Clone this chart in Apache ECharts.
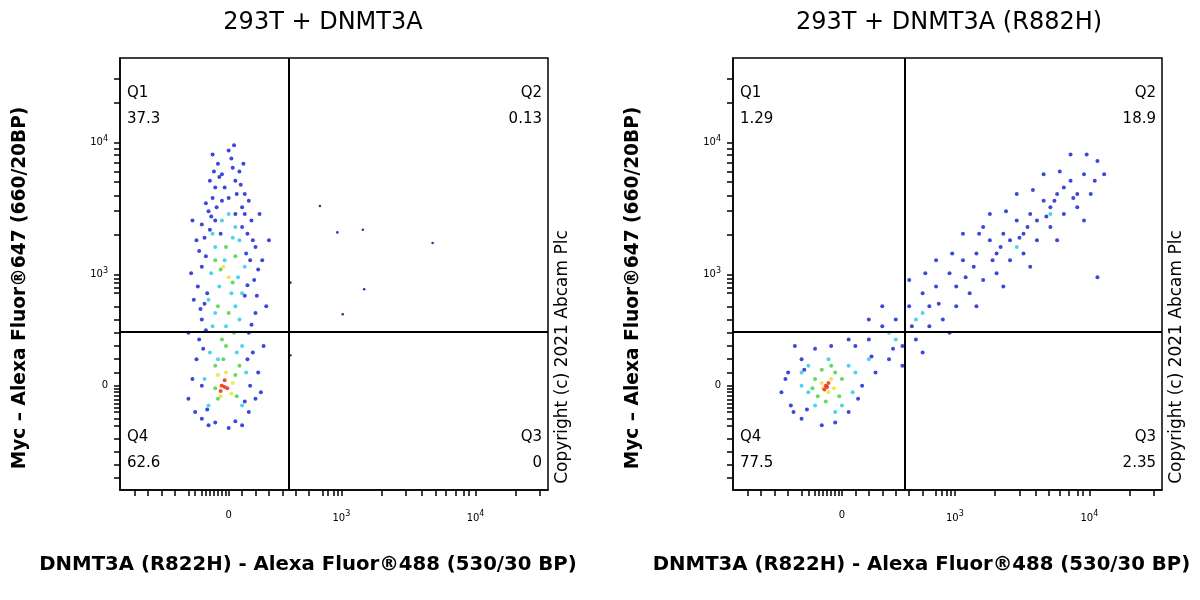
<!DOCTYPE html>
<html><head><meta charset="utf-8">
<script src="https://cdn.jsdelivr.net/npm/echarts@6/dist/echarts.min.js"></script>
<style>html,body{margin:0;background:#fff}#c{width:1200px;height:600px}</style>
</head><body><div id="c"></div>
<script>
// Axis values are in display (biexponential-like) units: 0 -> 0, 10^3 -> 0.84, 10^4 -> 1.84
const titles = ['293T + DNMT3A', '293T + DNMT3A (R882H)'];
const xName = 'DNMT3A (R822H) - Alexa Fluor®488 (530/30 BP)';
const yName = 'Myc – Alexa Fluor®647 (660/20BP)';
const tickPos = [0, 0.84, 1.84];
const tickText = ['0', '10|3', '10|4'];
const quadLabels = [['Q1','37.3','Q2','0.13','Q3','0','Q4','62.6'], ['Q1','1.29','Q2','18.9','Q3','2.35','Q4','77.5']];
const gateX = [0.45, 0.47];
const gateY = 0.41;

const leftBlue = [[-0.25,-0.2],[-0.2,-0.25],[-0.1,-0.28],[0.05,-0.27],[0.15,-0.2],[0.2,-0.1],[-0.27,0.05],[0.22,0.1],[-0.24,0.2],[0.18,0.25],
[-0.22,0.35],[0.15,0.4],[-0.2,0.5],[0.2,0.55],[-0.18,0.62],[0.12,0.68],[-0.23,0.75],[0.19,0.8],[-0.2,0.9],[0.16,0.95],
[-0.22,1.02],[0.2,1.05],[-0.18,1.12],[0.14,1.15],[-0.2,1.22],[0.17,1.25],[-0.15,1.32],[0.1,1.35],[-0.12,1.42],[0.12,1.45],
[-0.1,1.5],[0.05,1.55],[-0.05,1.6],[0.08,1.62],[-0.08,1.68],[0.02,1.72],[0.0,1.78],[-0.03,1.5],[0.15,1.4],[-0.17,1.38],
[0.25,0.95],[-0.28,0.85],[0.26,0.3],[-0.3,0.4],[0.24,-0.05],[-0.3,-0.1],[0.0,-0.32],[-0.15,-0.3],[0.1,-0.3],[0.28,0.6],
[0.3,1.1],[-0.27,1.25],[0.23,1.3],[-0.1,1.25],[0.05,1.3],[-0.05,1.4],[0.06,1.45],[-0.14,1.55],[0.1,1.2],[-0.06,1.15],
[-0.2,0.0],[0.16,0.0],[-0.16,-0.18],[0.12,-0.12],[-0.19,0.28],[0.14,0.2],[-0.17,0.42],[0.17,0.46],[-0.16,0.7],[0.14,0.76],
[-0.17,0.98],[0.13,1.0],[-0.14,1.18],[0.18,1.1],[-0.13,1.28],[0.12,1.3],[-0.09,1.35],[0.0,1.42],[-0.07,1.58],[0.03,1.65],
[-0.21,0.58],[0.21,0.68],[-0.24,1.1],[0.22,0.88],[-0.26,0.65],[0.09,1.52],[-0.11,1.62],[0.11,1.68],[0.04,1.82],[-0.12,1.75]];
const leftCyan = [[-0.15,-0.15],[0.1,-0.15],[-0.18,0.05],[0.13,0.1],[-0.14,0.25],[0.1,0.3],[-0.12,0.45],[0.08,0.5],[-0.15,0.65],[0.1,0.7],
[-0.13,0.85],[0.12,0.9],[-0.1,1.05],[0.08,1.1],[-0.05,1.25],[0.05,1.2],[-0.08,0.2],[0.05,0.6],[-0.03,0.95],[0.0,1.3],
[-0.1,0.55],[0.02,0.7],[-0.07,0.75],[0.07,0.82],[-0.12,1.15],[0.03,1.12],[-0.02,0.45],[0.06,0.25]];
const leftGreen = [[-0.08,-0.1],[0.06,-0.08],[-0.1,0.15],[0.08,0.15],[-0.05,0.35],[0.04,0.4],[-0.08,0.6],[0.03,0.78],[-0.06,0.88],[0.05,0.98],
[-0.02,1.05],[-0.1,0.95],[0.0,0.55],[-0.02,0.3],[-0.1,-0.02],[0.05,0.08],[-0.04,0.2]];
const leftYellow = [[-0.06,0.0],[0.03,0.02],[-0.02,0.1],[-0.08,0.08],[0.02,-0.06],[-0.04,0.9],[0.0,0.82],[-0.06,-0.08]];
const leftRed = [[-0.05,0.0],[-0.03,0.04],[-0.01,-0.02],[-0.06,-0.04],[-0.03,-0.01]];
const leftSparse = [[0.68,1.36],[0.81,1.16],[1.0,1.18],[1.52,1.08],[1.01,0.73],[0.85,0.54],[0.46,0.78],[0.46,0.23]];

const rightBlue = [[-0.45,-0.05],[-0.4,0.1],[-0.38,-0.15],[-0.3,0.2],[-0.3,-0.25],[-0.2,0.28],[-0.15,-0.3],[-0.05,-0.28],[0.05,-0.2],[0.1,0.3],
[0.15,0.0],[0.2,0.35],[0.25,0.1],[0.3,0.45],[0.35,0.2],[0.4,0.5],[0.45,0.3],[0.5,0.6],[0.55,0.35],[0.6,0.7],[0.65,0.45],[0.7,0.75],
[0.75,0.5],[0.8,0.85],[0.85,0.6],[0.9,0.95],[0.95,0.7],[1.0,1.0],[1.05,0.8],[1.1,1.1],[1.15,0.85],[1.2,1.15],[1.25,0.95],[1.3,1.25],
[1.35,1.0],[1.4,1.3],[1.45,1.1],[1.5,1.4],[1.55,1.2],[1.6,1.45],[1.65,1.3],[1.7,1.55],[1.75,1.35],[1.8,1.6],[1.85,1.45],[1.9,1.7],
[1.95,1.6],[1.7,1.75],[1.5,1.6],[1.3,1.45],[1.1,1.3],[0.9,1.15],[0.7,0.95],[0.5,0.8],[0.6,0.25],[0.8,0.4],[1.0,0.6],[1.2,0.75],
[1.4,0.9],[1.6,1.1],[1.8,1.25],[1.9,0.82],[0.3,0.6],[0.45,0.15],[0.2,0.5],[-0.35,0.3],[0.05,0.35],[1.05,1.2],[1.25,1.1],[1.45,1.25],
[1.65,1.5],[0.85,0.75],[0.65,0.6],[1.15,1.0],[1.35,1.15],[1.55,1.35],[1.75,1.45],[-0.42,0.05],[-0.36,-0.2],[-0.28,0.12],[-0.26,-0.18],
[-0.08,0.3],[0.12,-0.1],[0.22,0.22],[0.38,0.28],[0.52,0.45],[0.72,0.62],[0.92,0.82],[1.12,0.95],[1.32,1.12],[1.52,1.28],[1.72,1.42],[1.88,1.55],
[0.62,0.85],[0.82,1.0],[1.02,1.15],[1.22,1.32],[1.42,1.48],[1.62,1.62],[1.82,1.75],[0.98,0.9],[1.18,1.05],[1.38,1.2],[1.58,1.4]];
const rightCyan = [[-0.3,0.0],[-0.25,0.15],[-0.2,-0.15],[-0.1,0.2],[0.0,-0.15],[0.05,0.15],[-0.25,-0.05],[0.1,0.1],[0.2,0.2],[0.4,0.35],
[0.55,0.5],[0.6,0.55],[1.3,1.05],[1.55,1.3],[0.35,0.4],[-0.05,-0.2],[-0.3,0.1],[0.08,-0.05]];
const rightGreen = [[-0.2,0.05],[-0.15,0.12],[-0.05,0.1],[-0.02,-0.08],[-0.18,-0.08],[0.0,0.05],[-0.12,-0.12],[-0.22,-0.02],[-0.08,0.15]];
const rightYellow = [[-0.15,0.02],[-0.08,0.05],[-0.1,-0.05],[-0.14,-0.02],[-0.06,-0.02]];
const rightRed = [[-0.12,0.0],[-0.1,0.02],[-0.13,-0.03],[-0.11,-0.01]];

const minorTicks = [-0.7,-0.6,-0.5,-0.4,-0.3,-0.25,-0.2,-0.17,-0.14,-0.11,-0.08,-0.05,-0.02,0,0.1,0.2,0.3,0.4,0.5,0.6,0.7,0.74,0.78,0.81,
0.84,1.14,1.32,1.44,1.54,1.62,1.69,1.75,1.79,1.84,2.14,2.32];

const colors = {blue:'#0a1ccf', cyan:'#22c8e6', green:'#3ed03a', yellow:'#f0e020', red:'#ee2010', dark:'#000080'};
const grids = [{left:120,top:58,width:428,height:432},{left:733,top:58,width:429,height:432}];
const FF = 'DejaVu Sans';

function sup(v){const i=tickPos.indexOf(Math.round(v*100)/100);if(i<0)return '';const t=tickText[i];if(t.indexOf('|')<0)return '{n|'+t+'}';const p=t.split('|');return '{n|'+p[0]+'}{s|'+p[1]+'}';}
const rich={n:{fontSize:10,fontFamily:FF,color:'#000'},s:{fontSize:8,fontFamily:FF,color:'#000',verticalAlign:'top',padding:[0,0,8,0]}};

const xAxes=[],yAxes=[],series=[];
[0,1].forEach(g=>{
  xAxes.push({type:'value',gridIndex:g,min:-0.81,max:2.38,position:'bottom',splitLine:{show:false},
    axisLine:{show:true,onZero:false,lineStyle:{color:'#000',width:1.5}},
    axisTick:{show:true,customValues:minorTicks,length:6,lineStyle:{color:'#000',width:1.5}},
    axisLabel:{customValues:tickPos,formatter:sup,rich:rich,margin:20}});
  yAxes.push({type:'value',gridIndex:g,min:-0.79,max:2.48,splitLine:{show:false},
    axisLine:{show:true,onZero:false,lineStyle:{color:'#000',width:1.5}},
    axisTick:{show:true,customValues:minorTicks,length:6,lineStyle:{color:'#000',width:1.5}},
    axisLabel:{customValues:tickPos,formatter:sup,rich:rich,margin:12}});
  const sets = g===0 ? [[leftSparse,colors.dark],[leftBlue,colors.blue],[leftCyan,colors.cyan],[leftGreen,colors.green],[leftYellow,colors.yellow],[leftRed,colors.red]]
                     : [[rightBlue,colors.blue],[rightCyan,colors.cyan],[rightGreen,colors.green],[rightYellow,colors.yellow],[rightRed,colors.red]];
  sets.forEach((s,k)=>{
    series.push({type:'scatter',xAxisIndex:g,yAxisIndex:g,data:s[0],symbolSize:k===0&&g===0?2.6:4,itemStyle:{color:s[1]},silent:true,
      markLine: k===0 ? {silent:true,symbol:'none',label:{show:false},lineStyle:{color:'#000',width:2,type:'solid'},
        data:[{xAxis:gateX[g]},{yAxis:gateY}]} : undefined});
  });
});

const graphic=[];
[0,1].forEach(g=>{
  const gr=grids[g], q=quadLabels[g];
  const f={fontSize:15,fontFamily:FF,fill:'#000'};
  graphic.push({type:'text',x:g===0?323:949,y:11,style:Object.assign({},f,{text:titles[g],fontSize:24,align:'center'})});
  graphic.push({type:'text',x:gr.left+7,y:80,style:Object.assign({},f,{text:q[0]+'\n'+q[1],lineHeight:26})});
  graphic.push({type:'text',x:gr.left+gr.width-6,y:80,style:Object.assign({},f,{text:q[2]+'\n'+q[3],lineHeight:26,align:'right'})});
  graphic.push({type:'text',x:gr.left+gr.width-6,y:424,style:Object.assign({},f,{text:q[4]+'\n'+q[5],lineHeight:26,align:'right'})});
  graphic.push({type:'text',x:gr.left+7,y:424,style:Object.assign({},f,{text:q[6]+'\n'+q[7],lineHeight:26})});
  graphic.push({type:'text',x:gr.left+gr.width/2-26,y:555,style:{text:xName,fontSize:19.7,fontWeight:'bold',fontFamily:FF,fill:'#000',align:'center'}});
  graphic.push({type:'text',x:gr.left-100,y:288,rotation:Math.PI/2,style:{text:yName,fontSize:18.6,fontWeight:'bold',fontFamily:FF,fill:'#000',align:'center',verticalAlign:'middle'}});
  graphic.push({type:'text',x:gr.left+gr.width+15,y:357,rotation:Math.PI/2,style:{text:'Copyright (c) 2021 Abcam Plc',fontSize:17,fontFamily:FF,fill:'#000',align:'center',verticalAlign:'middle'}});
});

const chart=echarts.init(document.getElementById('c'));
chart.setOption({animation:false,
  grid:grids.map(g=>Object.assign({show:true,borderColor:'#000',borderWidth:1.5,backgroundColor:'#fff'},g)),
  xAxis:xAxes,yAxis:yAxes,series:series,graphic:graphic});
</script></body></html>
